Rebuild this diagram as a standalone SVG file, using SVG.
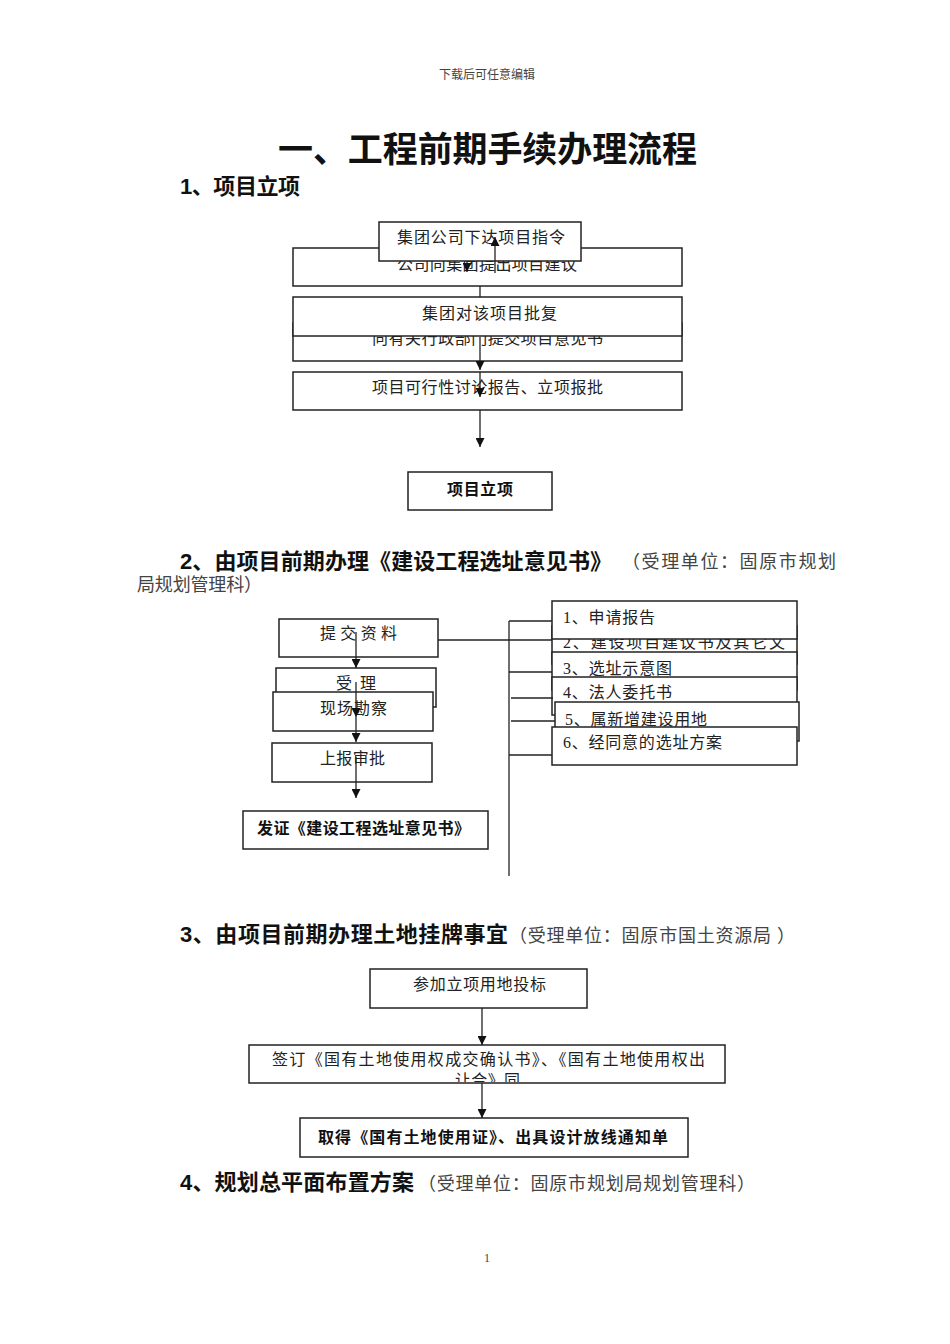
<svg xmlns="http://www.w3.org/2000/svg" width="950" height="1344" viewBox="0 0 950 1344">
<style>
.bg{fill:#fff}
.box{fill:#fff;stroke:#222;stroke-width:1.5}
.ln{stroke:#222;stroke-width:1.3;fill:none}
.arr{stroke:#222;stroke-width:1.3;fill:none;marker-end:url(#ah)}
.t{font-family:"Liberation Serif","Noto Sans CJK SC",serif;font-size:16px;fill:#222}
.tb{font-family:"Liberation Sans","Noto Sans CJK SC",sans-serif;font-size:16px;font-weight:bold;fill:#111}
.h{font-family:"Liberation Sans","Noto Sans CJK SC",sans-serif;font-size:22px;font-weight:bold;fill:#111}
.hn{font-family:"Liberation Serif","Noto Sans CJK SC",serif;font-size:18px;fill:#444}
.sm{font-family:"Liberation Serif","Noto Sans CJK SC",serif;font-size:12px;fill:#444}
</style>
<defs>
<marker id="ah" viewBox="0 0 10 10" refX="10" refY="5" markerWidth="9" markerHeight="9" markerUnits="userSpaceOnUse" orient="auto">
<path d="M0,0 L10,5 L0,10 z" fill="#111"/>
</marker>
<clipPath id="clipQ"><rect x="249" y="1045" width="476" height="37"/></clipPath>
</defs>
<rect class="bg" x="0" y="0" width="950" height="1344"/>

<text class="sm" x="487" y="79" text-anchor="middle">下载后可任意编辑</text>
<text x="278" y="162" font-family="Liberation Sans,Noto Sans CJK SC,sans-serif" font-size="35" font-weight="bold" fill="#111" textLength="419">一、工程前期手续办理流程</text>
<text class="h" x="180" y="194" textLength="120">1、项目立项</text>

<!-- Section 1 -->
<g id="n1b"><rect class="box" x="293" y="248" width="389" height="38"/><text class="t" x="397" y="270" textLength="180">公司向集团提出项目建议</text></g>
<g id="n1a"><rect class="box" x="379" y="222" width="202" height="39"/><text class="t" x="397" y="243" textLength="168">集团公司下达项目指令</text></g>
<g id="n1d"><rect class="box" x="293" y="323" width="389" height="38"/><text class="t" x="372" y="344" textLength="231">向有关行政部门提交项目意见书</text></g>
<g id="n1c"><rect class="box" x="293" y="297" width="389" height="39"/><text class="t" x="422" y="319" textLength="135">集团对该项目批复</text></g>
<g id="n1e"><rect class="box" x="293" y="372" width="389" height="38"/><text class="t" x="372" y="393" textLength="231">项目可行性讨论报告、立项报批</text></g>
<g id="n1f"><rect class="box" x="408" y="472" width="144" height="38"/><text class="tb" x="447" y="495" textLength="66">项目立项</text></g>

<!-- Section 2 headings -->
<text class="h" x="180" y="569" textLength="432">2、由项目前期办理《建设工程选址意见书》</text>
<text class="hn" x="622" y="568" textLength="214">（受理单位：固原市规划</text>
<text class="hn" x="137" y="591" textLength="125">局规划管理科）</text>

<!-- Section 2 left -->
<g id="n2a"><rect class="box" x="279" y="619" width="159" height="38"/><text class="t" x="320" y="639" textLength="77">提 交 资 料</text></g>
<g id="n2b"><rect class="box" x="276" y="668" width="160" height="39"/><text class="t" x="336" y="689" textLength="40">受 理</text></g>
<g id="n2c"><rect class="box" x="273" y="692" width="160" height="39"/><text class="t" x="320" y="714" textLength="67">现场勘察</text></g>
<g id="n2d"><rect class="box" x="272" y="743" width="160" height="39"/><text class="t" x="320" y="764" textLength="65">上报审批</text></g>
<g id="n2e"><rect class="box" x="243" y="811" width="245" height="38"/><text class="tb" x="257" y="834" textLength="213">发证《建设工程选址意见书》</text></g>

<!-- Section 2 right -->
<g id="r2"><rect class="box" x="552" y="626" width="245" height="38"/><text class="t" x="563" y="648" textLength="222">2、建设项目建议书及其它文</text></g>
<g id="r1"><rect class="box" x="552" y="601" width="245" height="38"/><text class="t" x="563" y="623" textLength="92">1、申请报告</text></g>
<g id="r3"><rect class="box" x="552" y="652" width="245" height="38"/><text class="t" x="563" y="674" textLength="109">3、选址示意图</text></g>
<g id="r4"><rect class="box" x="552" y="677" width="245" height="38"/><text class="t" x="563" y="698" textLength="109">4、法人委托书</text></g>
<g id="r5"><rect class="box" x="555" y="702" width="244" height="39"/><text class="t" x="565" y="725" textLength="142">5、属新增建设用地</text></g>
<g id="r6"><rect class="box" x="552" y="727" width="245" height="38"/><text class="t" x="563" y="748" textLength="159">6、经同意的选址方案</text></g>

<!-- Section 3 -->
<text class="h" x="180" y="942" textLength="328">3、由项目前期办理土地挂牌事宜</text>
<text class="hn" x="509" y="942" textLength="286">（受理单位：固原市国土资源局 ）</text>
<g id="n3a"><rect class="box" x="370" y="969" width="217" height="39"/><text class="t" x="413" y="990" textLength="133">参加立项用地投标</text></g>
<g id="n3b"><rect class="box" x="249" y="1045" width="476" height="38"/>
<text class="t" x="272" y="1065" textLength="433">签订《国有土地使用权成交确认书》、《国有土地使用权出</text>
<text class="t" x="455" y="1086" textLength="65" clip-path="url(#clipQ)">让合》同</text></g>
<g id="n3c"><rect class="box" x="300" y="1118" width="388" height="39"/><text class="tb" x="318" y="1143" textLength="350">取得《国有土地使用证》、出具设计放线通知单</text></g>

<!-- Section 4 -->
<text class="h" x="180" y="1190" textLength="234">4、规划总平面布置方案</text>
<text class="hn" x="418" y="1190" textLength="337">（受理单位：固原市规划局规划管理科）</text>

<text class="sm" x="487" y="1262" text-anchor="middle">1</text>

<!-- Connectors -->
<g id="connectors">
<line class="arr" x1="467" y1="261" x2="467" y2="272"/>
<line class="arr" x1="495" y1="273" x2="495" y2="237"/>
<line class="ln" x1="480" y1="286" x2="480" y2="297"/>
<line class="arr" x1="480" y1="337" x2="480" y2="370"/>
<line class="arr" x1="480" y1="372" x2="480" y2="397"/>
<line class="arr" x1="480" y1="410" x2="480" y2="447"/>

<line class="arr" x1="356" y1="632" x2="356" y2="668"/>
<line class="arr" x1="356" y1="682" x2="356" y2="717"/>
<line class="arr" x1="356" y1="717" x2="356" y2="742"/>
<line class="arr" x1="356" y1="757" x2="356" y2="798"/>
<line class="ln" x1="438" y1="640" x2="552" y2="640"/>
<line class="ln" x1="509" y1="621" x2="509" y2="876"/>
<line class="ln" x1="509" y1="621" x2="552" y2="621"/>
<line class="ln" x1="509" y1="672" x2="552" y2="672"/>
<line class="ln" x1="511" y1="698" x2="553" y2="698"/>
<line class="ln" x1="511" y1="721" x2="555" y2="721"/>
<line class="ln" x1="509" y1="755" x2="552" y2="755"/>

<line class="arr" x1="482" y1="1008" x2="482" y2="1045"/>
<line class="arr" x1="482" y1="1083" x2="482" y2="1118"/>
</g>
</svg>
